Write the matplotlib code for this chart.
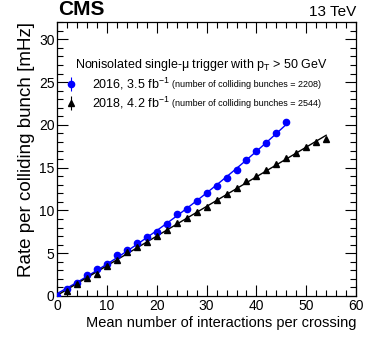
import numpy as np
import matplotlib.pyplot as plt
from matplotlib.ticker import MultipleLocator

plt.rcParams['font.family'] = ['Liberation Sans', 'DejaVu Sans']
plt.rcParams['mathtext.fontset'] = 'custom'
plt.rcParams['mathtext.rm'] = 'Liberation Sans'
plt.rcParams['mathtext.it'] = 'Liberation Sans'

# 2016 data
pu_2016 = np.arange(0, 48, 2)
rate_2016 = [0.0, 0.86, 1.56, 2.41, 3.11, 3.77, 4.82, 5.33, 6.19, 6.89, 7.51, 8.44,
             9.53, 10.12, 11.09, 11.98, 12.88, 13.77, 14.67, 15.84, 16.96, 17.86, 19.03, 20.39]

# 2018 data
pu_2018 = np.arange(2, 56, 2)
rate_2018 = [0.62, 1.44, 2.10, 2.60, 3.46, 4.20, 5.17, 5.72, 6.30, 7.00, 7.74, 8.48, 9.10,
             9.84, 10.43, 11.25, 11.95, 12.65, 13.39, 14.00, 14.70, 15.37, 16.07, 16.73,
             17.39, 18.00, 18.29]

fig = plt.figure(figsize=(3.74, 3.41), dpi=100)
ax = fig.add_axes([0.153, 0.132, 0.799, 0.803])

# Fits
fit16 = np.polyfit(pu_2016, rate_2016, 2)
xf16 = np.linspace(0, 46, 100)
ax.plot(xf16, np.polyval(fit16, xf16), color='blue', lw=1.0, zorder=2)
fit18 = np.polyfit(pu_2018, rate_2018, 1)
xf18 = np.linspace(0, 54, 100)
ax.plot(xf18, np.polyval(fit18, xf18), color='black', lw=1.0, zorder=2)

ax.errorbar(pu_2016, rate_2016, yerr=0.08, fmt='o', color='blue', ms=4.5,
            elinewidth=0.8, capsize=0, zorder=3)
ax.errorbar(pu_2018, rate_2018, yerr=0.08, fmt='^', color='black', ms=4.0,
            elinewidth=0.8, capsize=0, zorder=3)

ax.set_xlim(0, 60)
ax.set_ylim(0, 32)
ax.xaxis.set_major_locator(MultipleLocator(10))
ax.xaxis.set_minor_locator(MultipleLocator(2))
ax.yaxis.set_major_locator(MultipleLocator(5))
ax.yaxis.set_minor_locator(MultipleLocator(1))
ax.tick_params(which='both', direction='in', top=True, right=True, labelsize=10, width=0.8)
ax.tick_params(which='major', length=8, pad=2)
ax.tick_params(which='minor', length=4)
for s in ax.spines.values():
    s.set_linewidth(0.9)

ax.set_xlabel('Mean number of interactions per crossing', fontsize=10.5, loc='right', labelpad=2)
ax.set_ylabel('Rate per colliding bunch [mHz]', fontsize=13.5, loc='top', labelpad=3)

fig.text(0.155, 0.945, 'CMS', fontsize=15, fontweight='bold', ha='left', va='bottom')
fig.text(0.952, 0.945, '13 TeV', fontsize=11, ha='right', va='bottom')

# Legend
ax.text(0.06, 0.845, r'Nonisolated single-$\mu$ trigger with p$_\mathrm{T}$ > 50 GeV',
        transform=ax.transAxes, fontsize=9, va='center')
ax.errorbar([0.045], [0.775], yerr=0.025, fmt='o', color='blue', ms=4.5, elinewidth=0.8,
            transform=ax.transAxes, clip_on=False)
ax.errorbar([0.045], [0.705], yerr=0.025, fmt='^', color='black', ms=4.0, elinewidth=0.8,
            transform=ax.transAxes, clip_on=False)
ax.text(0.115, 0.775, r'2016, 3.5 fb$^{-1}$', transform=ax.transAxes, fontsize=9, va='center')
ax.text(0.385, 0.772, '(number of colliding bunches = 2208)', transform=ax.transAxes,
        fontsize=6.5, va='center')
ax.text(0.115, 0.705, r'2018, 4.2 fb$^{-1}$', transform=ax.transAxes, fontsize=9, va='center')
ax.text(0.385, 0.702, '(number of colliding bunches = 2544)', transform=ax.transAxes,
        fontsize=6.5, va='center')

fig.savefig('out.png', dpi=100)
